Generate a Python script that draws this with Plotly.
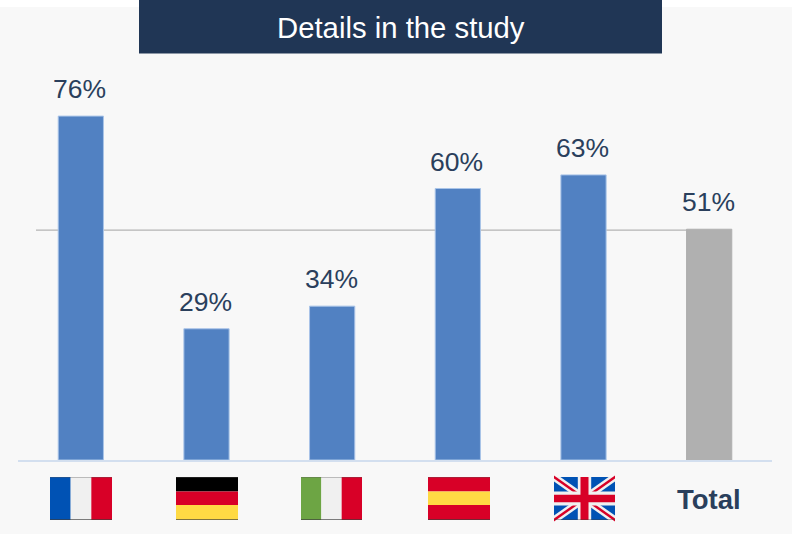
import plotly.graph_objects as go

countries = ["France", "Germany", "Italy", "Spain", "United Kingdom", "Total"]
shares = [76, 29, 34, 60, 63, 51]
bar_colors = ["#5181C2"] * 5 + ["#B0B0B0"]
edge_colors = ["#A9C4E8"] * 5 + ["#B0B0B0"]
title_text = "Details in the study"

W, H = 795, 534
ML, MR, MT, MB = 18, 23, 98, 74
NAVY = "#203655"
LABEL = "#2A3F5C"
RED, BLUE, WHITE, BLACK, YELLOW, GREEN = "#D80027", "#0052B4", "#F0F0F0", "#000000", "#FFDA44", "#6DA544"
PANEL = "#F8F8F8"
FONT = "Liberation Sans"


def fx(px):
    return (px - ML) / (W - ML - MR)


def fy(py):
    return 1 - (py - MT) / (H - MT - MB)


def rect(x0, y0, x1, y1, color, layer="above"):
    return dict(type="rect", xref="paper", yref="paper", x0=fx(x0), x1=fx(x1), y0=fy(y1), y1=fy(y0),
                fillcolor=color, line_width=0, layer=layer)


def poly(points, color):
    d = "M" + " L".join(f"{fx(x):.5f},{fy(y):.5f}" for x, y in points) + " Z"
    return dict(type="path", xref="paper", yref="paper", path=d, fillcolor=color, line_width=0, layer="above")


def edge_shading(left, right, top, bottom):
    # thin darker rims along the top and bottom of each flag
    return [rect(left, bottom - 1, right, bottom, "rgba(60,60,60,0.65)"),
            rect(left, top, right, top + 1, "rgba(90,90,90,0.35)")]


def vertical_flag(left, right, colors):
    top, bottom, step = 477, 520, (right - left) / 3
    bands = [rect(left + i * step, top, left + (i + 1) * step, bottom, c) for i, c in enumerate(colors)]
    return bands + edge_shading(left, right, top, bottom)


def horizontal_flag(left, right, colors, stops):
    bands = [rect(left, stops[i], right, stops[i + 1], c) for i, c in enumerate(colors)]
    return bands + edge_shading(left, right, stops[0], stops[-1])


def union_jack(l, r, t, b):
    cx, cy = (l + r) / 2, (t + b) / 2
    shapes = [rect(l, t, r, b, BLUE)]
    for (a, c) in [((l, t), (r, b)), ((l, b), (r, t))]:
        dy = 4.5
        shapes.append(poly([(a[0], a[1] - dy), (c[0], c[1] - dy), (c[0], c[1] + dy), (a[0], a[1] + dy)], WHITE))
    # trim the diagonal ends back to the flag outline
    shapes.append(rect(l, t - 6, r, t, PANEL))
    shapes.append(rect(l, b, r, b + 6, PANEL))
    for (a, c) in [((l, t), (r, b)), ((l, b), (r, t))]:
        shapes.append(poly([(a[0], a[1] - 1.5), (c[0], c[1] - 1.5), (c[0], c[1] + 1.5), (a[0], a[1] + 1.5)], RED))
    shapes.append(rect(cx - 6.7, t, cx + 6.7, b, WHITE))
    shapes.append(rect(l, cy - 7, r, cy + 7, WHITE))
    shapes.append(rect(cx - 4, t, cx + 4, b, RED))
    shapes.append(rect(l, cy - 3.8, r, cy + 3.8, RED))
    return shapes + [rect(l, b - 1, r, b, "rgba(60,60,60,0.4)")]


shapes = [
    rect(0, 7, 792, 534, PANEL, "below"),
    rect(139, 0, 662, 53.5, NAVY, "below"),
    dict(type="line", xref="paper", yref="y", x0=fx(36), x1=fx(710), y0=50.8, y1=50.8,
         line=dict(color="#B4B4B4", width=1.3), layer="below"),
]
shapes += vertical_flag(50, 112, [BLUE, WHITE, RED])
shapes += horizontal_flag(176, 238, [BLACK, RED, YELLOW], [477, 491.5, 505, 520])
shapes += vertical_flag(301, 362, [GREEN, WHITE, RED])
shapes += horizontal_flag(428, 490, [RED, YELLOW, RED], [477, 491.5, 505, 520])
shapes += union_jack(554, 615, 477, 520)

annotations = [
    dict(x=c, y=v, xref="x", yref="y", text=f"{v}%", showarrow=False, yanchor="bottom", yshift=10, xshift=-1,
         font=dict(family=FONT, size=26.5, color=LABEL))
    for c, v in zip(countries, shares)
]
annotations.append(dict(xref="paper", yref="paper", x=fx(400.5), y=fy(27), xanchor="center", yanchor="middle",
                        text=title_text, showarrow=False,
                        font=dict(family=FONT, size=29.3, color="#FFFFFF")))
annotations.append(dict(xref="x", yref="paper", x="Total", y=fy(499), xanchor="center", yanchor="middle",
                        text="<b>Total</b>", showarrow=False,
                        font=dict(family=FONT, size=27.5, color=LABEL)))

fig = go.Figure(go.Bar(
    x=countries, y=shares,
    marker=dict(color=bar_colors, line=dict(color=edge_colors, width=1)),
    width=0.36, hoverinfo="skip",
))
fig.update_layout(
    width=W, height=H,
    margin=dict(l=ML, r=MR, t=MT, b=MB),
    paper_bgcolor="#FFFFFF", plot_bgcolor="rgba(0,0,0,0)",
    showlegend=False,
    shapes=shapes, annotations=annotations,
    xaxis=dict(showticklabels=False, ticks="", showgrid=False, zeroline=False, showline=True,
               linecolor="#D3DFEF", linewidth=2),
    yaxis=dict(range=[0, 80], visible=False, fixedrange=True),
)
fig.write_html("out.html", config=dict(displayModeBar=False))
